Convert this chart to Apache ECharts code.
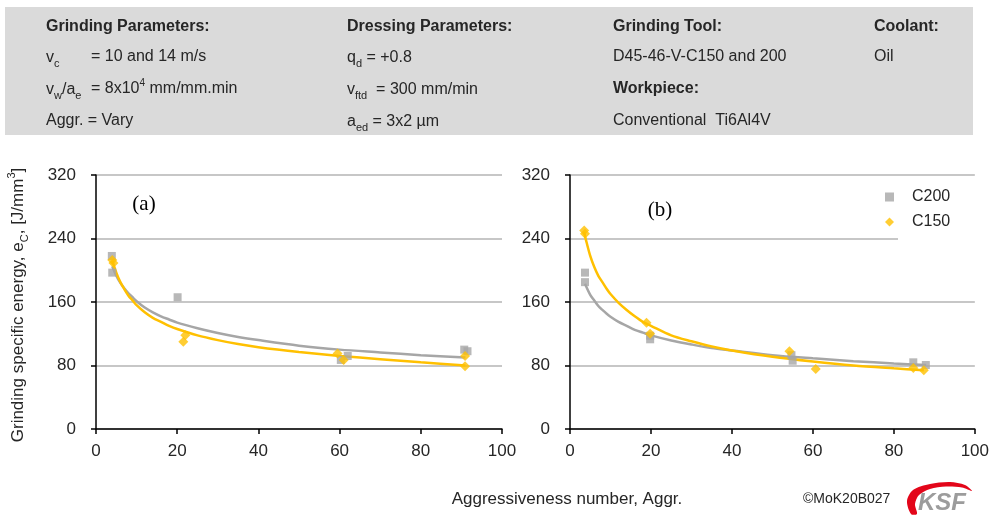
<!DOCTYPE html>
<html lang="en">
<head>
  <meta charset="UTF-8">
  <title>Grinding specific energy vs aggressiveness</title>
  <script src="https://cdn.jsdelivr.net/npm/echarts@6/dist/echarts.min.js"></script>
  <style>
    html, body { margin: 0; padding: 0; background: #fff; }
    #box { width: 992px; height: 517px; }
  </style>
</head>
<body>
<div id="box"></div>

<script>
  // measured points, panel (a)
  var aC200X = [3.9, 4, 20.1, 60.3, 62, 90.7, 91.5];
  var aC200Y = [218, 197, 166, 87, 92, 100, 98];
  var aC150X = [4, 4.3, 21.5, 22, 59.5, 61, 90.9, 90.9];
  var aC150Y = [213, 209, 110, 118, 95, 87, 92, 79];

  // measured points, panel (b)
  var bC200X = [3.7, 3.7, 19.8, 19.8, 54.7, 55, 84.8, 87.9];
  var bC200Y = [197, 185, 117.5, 113, 93, 86, 84, 80.6];
  var bC150X = [3.5, 3.7, 18.9, 19.8, 54.2, 60.7, 84.8, 87.4];
  var bC150Y = [250, 246, 134, 120, 98, 75.5, 77, 74];

  // trend lines
  var aTrendX = [4, 5, 6, 7, 8, 9, 10, 12, 14, 16, 18, 20, 25, 30, 35, 40, 50, 60, 70, 80, 91];
  var aTrendC200 = [205, 193, 184, 177, 171, 166, 161, 153, 147, 142, 138, 134, 127, 121, 116, 112, 105, 100, 96.5, 93, 90];
  var aTrendC150 = [212, 197, 185, 176, 168, 162, 156, 147, 140, 135, 130, 126, 118, 112, 107, 103, 97, 92, 88, 84, 80];
  var bTrendC200X = [3.7, 5, 6, 7, 8, 9, 10, 12, 14, 16, 18, 20, 25, 30, 35, 40, 50, 60, 70, 80, 88];
  var bTrendC200 = [183, 169, 162, 155, 150, 145.5, 141.5, 135, 130, 125, 121.5, 118, 111.6, 106.5, 102, 99, 93, 89, 85.5, 82.6, 80.6];
  var bTrendC150X = [3.5, 4, 5, 6, 7, 8, 9, 10, 12, 14, 16, 18, 20, 25, 30, 35, 40, 50, 60, 70, 80, 87.4];
  var bTrendC150 = [248, 237, 218, 204, 193, 185, 177, 170, 159, 150, 142, 135, 130, 118, 110.5, 104, 99, 91, 85, 80, 76.4, 74];

  var xTicks = { min: 0, max: 100, interval: 20 };
  var yTicks = { min: 0, max: 320, interval: 80 };

  var GRAY = '#a6a6a6';
  var GOLD = '#ffc000';
  var FONT = 'Liberation Sans';
  var INK = '#262626';

  function pairs(xs, ys) {
    var out = [];
    for (var i = 0; i < xs.length; i++) out.push([xs[i], ys[i]]);
    return out;
  }

  function xAxisFor(idx) {
    return {
      gridIndex: idx, type: 'value',
      min: xTicks.min, max: xTicks.max, interval: xTicks.interval,
      axisLine: { onZero: false, lineStyle: { color: '#000', width: 1.5 } },
      axisTick: { show: true, length: 5, lineStyle: { color: '#000', width: 1.5 } },
      axisLabel: { color: INK, fontFamily: FONT, fontSize: 17, margin: 14 },
      splitLine: { show: false }
    };
  }

  function yAxisFor(idx) {
    return {
      gridIndex: idx, type: 'value',
      min: yTicks.min, max: yTicks.max, interval: yTicks.interval,
      axisLine: { show: true, lineStyle: { color: '#000', width: 1.5 } },
      axisTick: { show: true, length: 5, lineStyle: { color: '#000', width: 1.5 } },
      axisLabel: { color: INK, fontFamily: FONT, fontSize: 17, margin: 20 },
      splitLine: { show: true, lineStyle: { color: '#b4b4b4', width: 1.5 } }
    };
  }

  function pointSeries(name, idx, xs, ys, sym, size, color) {
    return {
      name: name, type: 'scatter', xAxisIndex: idx, yAxisIndex: idx,
      symbol: sym, symbolSize: size, z: 4,
      itemStyle: { color: color },
      data: pairs(xs, ys)
    };
  }

  function trendSeries(name, idx, xs, ys, color) {
    return {
      name: name, type: 'line', xAxisIndex: idx, yAxisIndex: idx,
      smooth: 0.3, showSymbol: false, symbol: 'none', z: 3,
      lineStyle: { color: color, width: 2.5 },
      data: pairs(xs, ys)
    };
  }

  var sub = { fontSize: 11, lineHeight: 12, verticalAlign: 'bottom', fill: INK, fontFamily: FONT };
  var sup = { fontSize: 10, lineHeight: 12, verticalAlign: 'top', fill: INK, fontFamily: FONT };

  function headText(x, y, txt, bold) {
    return {
      type: 'text', x: x, y: y, z: 2,
      style: {
        text: txt, fill: INK, fontFamily: FONT, fontSize: 16,
        fontWeight: bold ? 'bold' : 'normal',
        lineHeight: 22, verticalAlign: 'middle', align: 'left',
        rich: { sub: sub, sup: sup }
      }
    };
  }

  var graphics = [
    { type: 'rect', z: 1, shape: { x: 5, y: 7, width: 968, height: 128 }, style: { fill: '#dadada' } },
    headText(46, 27, 'Grinding Parameters:', true),
    headText(347, 27, 'Dressing Parameters:', true),
    headText(613, 27, 'Grinding Tool:', true),
    headText(874, 27, 'Coolant:', true),
    headText(46, 58, 'v{sub|c}'),
    headText(91, 57, '= 10 and 14 m/s'),
    headText(347, 58, 'q{sub|d} = +0.8'),
    headText(613, 57, 'D45-46-V-C150 and 200'),
    headText(874, 57, 'Oil'),
    headText(46, 90, 'v{sub|w}/a{sub|e}'),
    headText(91, 89, '= 8x10{sup|4} mm/mm.min'),
    headText(347, 90, 'v{sub|ftd}  = 300 mm/min'),
    headText(613, 89, 'Workpiece:', true),
    headText(46, 121, 'Aggr. = Vary'),
    headText(347, 122, 'a{sub|ed} = 3x2 µm'),
    headText(613, 121, 'Conventional  Ti6Al4V'),
    // panel tags
    { type: 'text', x: 144, y: 204, z: 5, style: { text: '(a)', fill: '#000', fontFamily: 'Liberation Serif', fontSize: 21, align: 'center', verticalAlign: 'middle' } },
    { type: 'text', x: 660, y: 210, z: 5, style: { text: '(b)', fill: '#000', fontFamily: 'Liberation Serif', fontSize: 21, align: 'center', verticalAlign: 'middle' } },
    // y axis title
    {
      type: 'text', x: 18, y: 305, rotation: Math.PI / 2, z: 5,
      style: {
        text: 'Grinding specific energy, e{sub|C}, [J/mm{sup|3}]',
        fill: INK, fontFamily: FONT, fontSize: 17, lineHeight: 24,
        align: 'center', verticalAlign: 'middle',
        rich: {
          sub: { fontSize: 11, lineHeight: 14, verticalAlign: 'bottom', fill: INK, fontFamily: FONT },
          sup: { fontSize: 11, lineHeight: 14, verticalAlign: 'top', fill: INK, fontFamily: FONT }
        }
      }
    },
    // x axis title
    { type: 'text', x: 567, y: 499, z: 5, style: { text: 'Aggressiveness number, Aggr.', fill: INK, fontFamily: FONT, fontSize: 17, align: 'center', verticalAlign: 'middle' } },
    { type: 'text', x: 803, y: 499, z: 5, style: { text: '©MoK20B027', fill: INK, fontFamily: FONT, fontSize: 14, align: 'left', verticalAlign: 'middle' } },
    // KSF logo swoosh
    {
      type: 'polygon', z: 5,
      shape: {
        smooth: 0.3,
        points: [[911, 514], [907, 501], [913, 490], [930, 484], [950, 482], [965, 485], [972, 491],
                 [962, 487.5], [946, 486.5], [930, 489], [919, 495], [915, 504], [917, 514]]
      },
      style: { fill: '#e3061a' }
    },
    { type: 'text', x: 918, y: 503, z: 6, style: { text: 'KSF', fill: '#9c9c9c', fontFamily: FONT, fontSize: 24, fontWeight: 'bold', fontStyle: 'italic', align: 'left', verticalAlign: 'middle' } },
    // white patch behind legend
    { type: 'rect', z: 1, shape: { x: 898, y: 180, width: 78, height: 68 }, style: { fill: '#fff' } }
  ];

  var chart = echarts.init(document.getElementById('box'));
  var option = {
    animation: false,
    backgroundColor: '#fff',
    grid: [
      { left: 96, top: 175, width: 406, height: 254 },
      { left: 570, top: 175, width: 405, height: 254 }
    ],
    xAxis: [xAxisFor(0), xAxisFor(1)],
    yAxis: [yAxisFor(0), yAxisFor(1)],
    legend: {
      left: 880, top: 184, orient: 'vertical', itemGap: 9,
      itemWidth: 9, itemHeight: 9, z: 6,
      textStyle: { color: INK, fontFamily: FONT, fontSize: 16, padding: [0, 0, 0, 13] },
      data: [{ name: 'C200', icon: 'rect' }, { name: 'C150', icon: 'diamond' }]
    },
    graphic: graphics,
    series: [
      trendSeries('C200 trend', 0, aTrendX, aTrendC200, GRAY),
      trendSeries('C150 trend', 0, aTrendX, aTrendC150, GOLD),
      pointSeries('C200', 0, aC200X, aC200Y, 'rect', 8, GRAY),
      pointSeries('C150', 0, aC150X, aC150Y, 'diamond', 10, GOLD),
      trendSeries('C200 trend', 1, bTrendC200X, bTrendC200, GRAY),
      trendSeries('C150 trend', 1, bTrendC150X, bTrendC150, GOLD),
      pointSeries('C200', 1, bC200X, bC200Y, 'rect', 8, GRAY),
      pointSeries('C150', 1, bC150X, bC150Y, 'diamond', 10, GOLD)
    ]
  };
  chart.setOption(option);
</script>
</body>
</html>
